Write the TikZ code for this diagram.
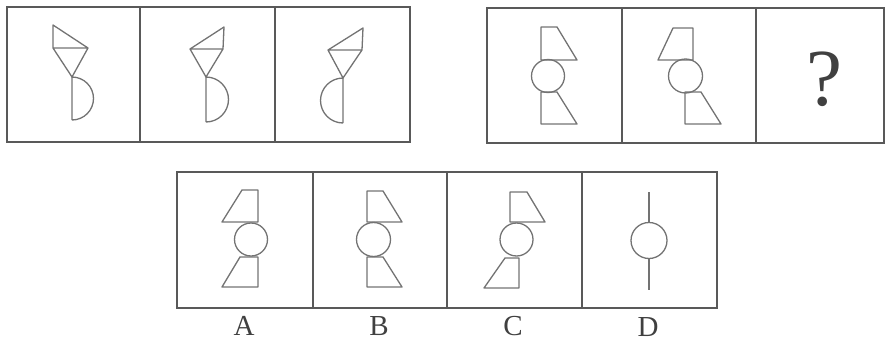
\documentclass[tikz,border=0pt]{standalone}
\usepackage{fontspec}
\setmainfont{Liberation Serif}
\begin{document}
\begin{tikzpicture}[x=1pt,y=-1pt,
  frame/.style={draw=black!65,line width=1.5pt},
  fig/.style={draw=black!55,line width=1.3pt,line join=round},
  lab/.style={anchor=base,inner sep=0pt,font=\fontsize{29}{32}\selectfont,text=black!75}]
\useasboundingbox (0,0) rectangle (886,343);
% frames
\draw[frame] (7,7) rectangle (410,142) (140,7)--(140,142) (275,7)--(275,142);
\draw[frame] (487,8) rectangle (884,143) (622,8)--(622,143) (756,8)--(756,143);
\draw[frame] (177,172) rectangle (717,308) (313,172)--(313,308) (447,172)--(447,308) (582,172)--(582,308);
% top-left panel 1
\draw[fig] (53,25)--(53,48)--(88,48)--cycle (53,48)--(72,77)--(88,48);
\draw[fig] (72,120)--(72,77) arc[start angle=270,end angle=450,radius=21.5];
% panel 2
\draw[fig] (224,27)--(223,49)--(190,49)--cycle (190,49)--(206,77)--(223,49);
\draw[fig] (206,122)--(206,77) arc[start angle=270,end angle=450,radius=22.5];
% panel 3
\draw[fig] (363,28)--(362,50)--(328,50)--cycle (328,50)--(343,78)--(362,50);
\draw[fig] (343,123)--(343,78) arc[start angle=270,end angle=90,radius=22.5];
% top-right panel 1
\draw[fig] (541,27)--(557,27)--(577,60)--(541,60)--cycle;
\draw[fig] (548,76) circle[radius=16.5];
\draw[fig] (541,92)--(557,92)--(577,124)--(541,124)--cycle;
% top-right panel 2
\draw[fig] (673,28)--(693,28)--(693,60)--(658,60)--cycle;
\draw[fig] (685.5,76) circle[radius=17];
\draw[fig] (685,92)--(701,92)--(721,124)--(685,124)--cycle;
% question mark
\node[anchor=base,inner sep=0pt,font=\fontsize{81}{90}\selectfont,text=black!75] (q) at (824,105) {?};
% option A
\draw[fig] (242,190)--(258,190)--(258,222)--(222,222)--cycle;
\draw[fig] (251,239.5) circle[radius=16.5];
\draw[fig] (240,257)--(258,257)--(258,287)--(222,287)--cycle;
% option B
\draw[fig] (367,191)--(383,191)--(402,222)--(367,222)--cycle;
\draw[fig] (373.5,239.5) circle[radius=17];
\draw[fig] (367,257)--(383,257)--(402,287)--(367,287)--cycle;
% option C
\draw[fig] (510,192)--(527,192)--(545,222)--(510,222)--cycle;
\draw[fig] (516.5,239.5) circle[radius=16.5];
\draw[fig] (505,258)--(519,258)--(519,288)--(484,288)--cycle;
% option D
\draw[fig] (649,240.5) circle[radius=18];
\draw[fig] (649,192)--(649,222.5) (649,258.5)--(649,290);
% labels
\node[lab] (la) at (244,335) {A};
\node[lab] (lb) at (379,335) {B};
\node[lab] (lc) at (513,335) {C};
\node[lab] (ld) at (648,336) {D};
\end{tikzpicture}
\end{document}
